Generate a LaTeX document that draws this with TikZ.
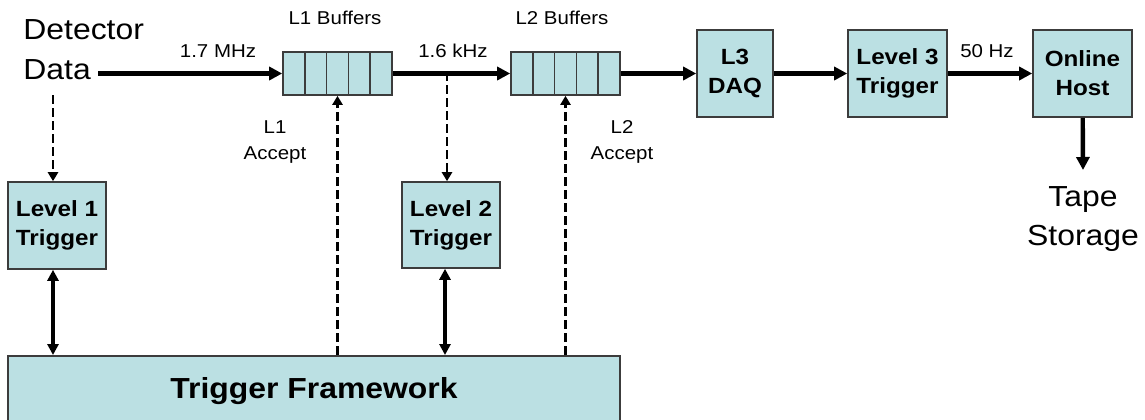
\documentclass[tikz,border=0pt]{standalone}
\usepackage{fontspec}
\setmainfont{Liberation Sans}[FakeStretch=1.1]
\usetikzlibrary{arrows.meta}
\definecolor{boxfill}{RGB}{187,224,227}
\definecolor{boxline}{RGB}{60,60,60}

\begin{document}
\begin{tikzpicture}[x=0.5pt,y=-0.5pt,
  unitbox/.style={draw=boxline,line width=0.8pt,fill=boxfill,inner sep=0pt,align=center,font=\fontsize{11}{14.5}\selectfont\bfseries},
  cellbox/.style={draw=boxline,line width=0.8pt,fill=boxfill,inner sep=0pt,minimum width=10.9pt,minimum height=21.5pt},
  tag/.style={font=\fontsize{9.3}{13}\selectfont,inner sep=0pt,align=center},
  big/.style={font=\fontsize{14.5}{19.5}\selectfont,inner sep=0pt,align=center},
  flow/.style={line width=2.2pt,-{Triangle[length=6.5pt,width=6.5pt]}},
  ctl/.style={line width=1.3pt,dash pattern=on 4.5pt off 2pt,-{Triangle[length=4.5pt,width=5pt]}},
  sync/.style={line width=2.2pt,{Triangle[length=5.5pt,width=5.5pt]}-{Triangle[length=5.5pt,width=5.5pt]}}]
  \useasboundingbox (0,0) rectangle (1145,419);
  % source
  \node[big,anchor=base west] (det) at (23,39) {Detector};
  \node[big,anchor=base west] (data) at (23,79) {Data};
  \coordinate (dtap) at (53,95);
  % buffers
  \foreach \i in {1,...,5} { \node[cellbox] (p\i) at ({272.1+21.8*\i},73.5) {}; }
  \foreach \i in {1,...,5} { \node[cellbox] (q\i) at ({500.1+21.8*\i},73.5) {}; }
  \node[tag,anchor=base] (p-lbl) at (335,24) {L1 Buffers};
  \node[tag,anchor=base] (q-lbl) at (562,24) {L2 Buffers};
  \coordinate (tap) at (447,72);
  % level 3 and host
  \node[unitbox,minimum width=38pt,minimum height=43.5pt] (l3daq) at (735,73.5) {L3\\DAQ};
  \node[unitbox,minimum width=49.5pt,minimum height=43.5pt] (l3trig) at (897.5,73.5) {Level 3\\Trigger};
  \node[unitbox,minimum width=49.5pt,minimum height=43.5pt] (host) at (1082.5,73.5) {Online\\Host};
  \node[big,anchor=north] (tape) at (1083,186) {Tape\\Storage};
  % triggers
  \node[unitbox,minimum width=49pt,minimum height=43.5pt] (l1trig) at (57,225.5) {Level 1\\Trigger};
  \node[unitbox,minimum width=49pt,minimum height=43pt] (l2trig) at (451,225) {Level 2\\Trigger};
  \node[unitbox,font=\fontsize{14.5}{18}\selectfont\bfseries,minimum width=306pt,minimum height=35.5pt,anchor=north] (tf) at (314,355) {Trigger Framework};
  % rates and accepts
  \node[tag,anchor=base] (r1) at (218,57) {1.7 MHz};
  \node[tag,anchor=base] (r2) at (453,57) {1.6 kHz};
  \node[tag,anchor=base] (r3) at (987,57) {50 Hz};
  \node[tag] (acc1) at (275,142) {L1\\Accept};
  \node[tag] (acc2) at (622,142) {L2\\Accept};
  % data path
  \draw[flow] ([xshift=3.5pt]data.east |- p1.west) -- (p1.west);
  \draw[flow] (p5.east) -- (q1.west);
  \draw[flow] (q5.east) -- (l3daq);
  \draw[flow] (l3daq) -- (l3trig);
  \draw[flow] (l3trig) -- (host);
  \draw[flow] (host) -- ([yshift=8pt]tape.north);
  % control
  \draw[ctl] (dtap) -- (dtap |- l1trig.north);
  \draw[ctl] (tap) -- (tap |- l2trig.north);
  \draw[ctl] (tf.north -| p3.south) -- (p3.south);
  \draw[ctl] (tf.north -| q3.south) -- (q3.south);
  \draw[sync] (l1trig.south -| dtap) -- (tf.north -| dtap);
  \draw[sync] ([xshift=-1pt]l2trig.south -| tap) -- ([xshift=-1pt]tf.north -| tap);
\end{tikzpicture}
\end{document}
